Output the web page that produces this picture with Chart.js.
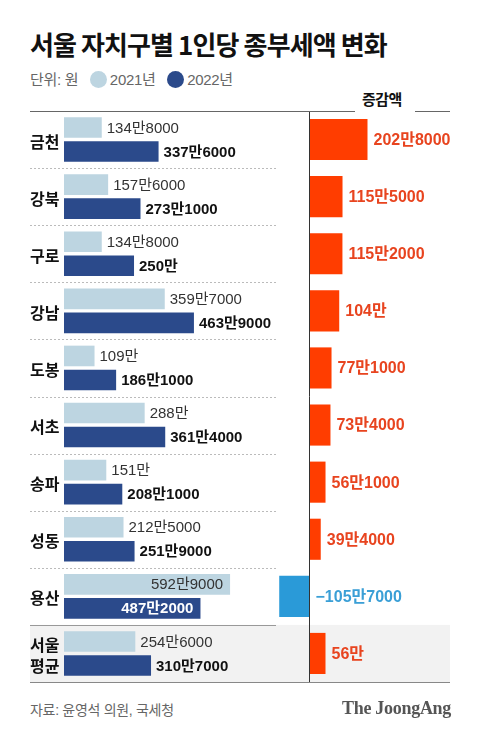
<!DOCTYPE html>
<html>
<head>
<meta charset="utf-8">
<script src="https://cdn.jsdelivr.net/npm/chart.js@4.4.1/dist/chart.umd.min.js"></script>
<style>
body{margin:0;width:480px;height:739px;background:#fff;position:relative;overflow:hidden;font-family:"Liberation Sans","Noto Sans CJK KR",sans-serif}
.abs{position:absolute}
#title{left:30px;top:27px;margin:0;font-family:"Noto Sans CJK KR",sans-serif;font-size:26px;font-weight:700;letter-spacing:-0.9px;line-height:34px;color:#111;white-space:nowrap}
#legend{left:30px;top:69px;font-size:15px;color:#666;line-height:22px;white-space:nowrap;letter-spacing:-0.3px}
#legend span.dot{display:inline-block;width:17px;height:17px;border-radius:50%;vertical-align:-3px;margin-right:3px}
#head{left:362px;top:89px;font-family:"Noto Sans CJK KR",sans-serif;font-size:15px;font-weight:700;color:#111;line-height:20px;letter-spacing:-0.5px}
.rule{height:1px}
#src{left:30px;top:699px;font-size:14px;color:#666;line-height:22px;letter-spacing:-0.3px}
#brand{right:29px;top:698px;font-family:"Liberation Serif","DejaVu Serif",serif;font-weight:700;font-size:18px;color:#555;letter-spacing:-0.3px}
</style>
</head>
<body>
<div id="title" class="abs">서울 자치구별 1인당 종부세액 변화</div>
<div id="legend" class="abs">단위: 원&nbsp;&nbsp;&nbsp;<span class="dot" style="background:#bdd5e1"></span>2021년&nbsp;&nbsp;&nbsp;<span class="dot" style="background:#2b4a8b"></span>2022년</div>
<div id="head" class="abs">증감액</div>

<canvas id="left" class="abs" style="left:0;top:111px" width="480" height="571"></canvas>
<canvas id="right" class="abs" style="left:278px;top:111px" width="202" height="571"></canvas>

<div class="abs rule" style="left:30px;top:111px;width:325px;background:#666"></div>
<div class="abs rule" style="left:415px;top:111px;width:35px;background:#666"></div>
<div class="abs rule" style="left:30px;top:682px;width:420px;background:#888"></div>

<div id="src" class="abs">자료: 윤영석 의원, 국세청</div>
<div id="brand" class="abs">The JoongAng</div>

<script>
const categories = ['금천', '강북', '구로', '강남', '도봉', '서초', '송파', '성동', '용산', ['서울', '평균']];
const tax2021 = [1348000, 1576000, 1348000, 3597000, 1090000, 2880000, 1510000, 2125000, 5929000, 2546000];
const tax2022 = [3376000, 2731000, 2500000, 4639000, 1861000, 3614000, 2081000, 2519000, 4872000, 3107000];
const change = [2028000, 1155000, 1152000, 1040000, 771000, 734000, 561000, 394000, -1057000, 560000];

const FONT = '"Noto Sans CJK KR", sans-serif';
const NUM_FONT = '"Liberation Sans", "Noto Sans CJK KR", sans-serif';

// 1348000 -> "134만8000"
function won(v) {
  const sign = v < 0 ? '−' : '';
  v = Math.abs(v);
  const man = Math.floor(v / 10000), rest = v % 10000;
  return sign + man + '만' + (rest ? rest : '');
}

// y of the boundary between category i and i+1
function between(scale, i) {
  return (scale.getPixelForValue(i) + scale.getPixelForValue(i + 1)) / 2;
}

const leftPlugin = {
  id: 'leftDeco',
  beforeDraw(chart) {
    // grey band behind the Seoul average row, across both panels
    const ctx = chart.ctx, y = chart.scales.y, n = categories.length;
    const top = between(y, n - 2);
    ctx.save();
    ctx.fillStyle = '#f2f2f2';
    ctx.fillRect(30, top, 420, chart.chartArea.bottom - top);
    ctx.restore();
  },
  afterDatasetsDraw(chart) {
    const ctx = chart.ctx, y = chart.scales.y, n = categories.length;
    const right = chart.chartArea.right;
    ctx.save();
    // row separators
    for (let i = 0; i < n - 1; i++) {
      const py = Math.round(between(y, i)) + 0.5;
      ctx.beginPath();
      if (i < n - 2) { ctx.setLineDash([2, 2]); ctx.strokeStyle = '#bbb'; }
      else { ctx.setLineDash([]); ctx.strokeStyle = '#999'; }
      ctx.moveTo(30, py);
      ctx.lineTo(right - 2, py);
      ctx.stroke();
    }
    ctx.setLineDash([]);
    // category names
    ctx.font = '700 16px ' + FONT;
    ctx.fillStyle = '#111';
    ctx.textAlign = 'left';
    ctx.textBaseline = 'middle';
    chart.data.labels.forEach((lab, i) => {
      const lines = Array.isArray(lab) ? lab : [lab];
      const cy = y.getPixelForValue(i) + 2 - (lines.length - 1) * 10.5;
      lines.forEach((t, k) => ctx.fillText(t, 30, cy + k * 21));
    });
    // value labels
    chart.data.datasets.forEach((ds, d) => {
      ctx.font = (d === 1 ? '700 ' : '400 ') + '15px ' + NUM_FONT;
      chart.getDatasetMeta(d).data.forEach((bar, i) => {
        const txt = won(ds.data[i]);
        const w = ctx.measureText(txt).width;
        if (bar.x + 5 + w > right - 2) {
          ctx.textAlign = 'right';
          ctx.fillStyle = d === 1 ? '#fff' : '#333';
          ctx.fillText(txt, bar.x - 7, bar.y + 1);
        } else {
          ctx.textAlign = 'left';
          ctx.fillStyle = d === 1 ? '#111' : '#333';
          ctx.fillText(txt, bar.x + 5, bar.y + 1);
        }
      });
    });
    ctx.restore();
  }
};

const rightPlugin = {
  id: 'rightDeco',
  afterDatasetsDraw(chart) {
    const ctx = chart.ctx, x = chart.scales.x;
    const zero = Math.round(x.getPixelForValue(0)) + 0.5;
    ctx.save();
    ctx.strokeStyle = '#333';
    ctx.lineWidth = 1;
    ctx.beginPath();
    ctx.moveTo(zero, chart.chartArea.top);
    ctx.lineTo(zero, chart.chartArea.bottom);
    ctx.stroke();
    ctx.font = '700 16px ' + NUM_FONT;
    ctx.textBaseline = 'middle';
    ctx.textAlign = 'left';
    chart.getDatasetMeta(0).data.forEach((bar, i) => {
      const v = change[i];
      ctx.fillStyle = v < 0 ? '#3a9fd6' : '#e8441f';
      const px = v < 0 ? zero + 6 : bar.x + 6;
      ctx.fillText(won(v), px, bar.y + 1);
    });
    ctx.restore();
  }
};

new Chart(document.getElementById('left').getContext('2d'), {
  type: 'bar',
  data: {
    labels: categories,
    datasets: [
      { label: '2021년', data: tax2021, backgroundColor: '#bdd5e1' },
      { label: '2022년', data: tax2022, backgroundColor: '#2b4a8b' }
    ]
  },
  options: {
    indexAxis: 'y',
    responsive: false,
    animation: false,
    categoryPercentage: 0.84,
    barPercentage: 0.86,
    layout: { padding: { left: 64, right: 202, top: 0, bottom: 0 } },
    plugins: { legend: { display: false }, tooltip: { enabled: false } },
    scales: {
      x: { type: 'linear', display: false, min: 0, max: 7640000 },
      y: { display: false }
    }
  },
  plugins: [leftPlugin]
});

new Chart(document.getElementById('right').getContext('2d'), {
  type: 'bar',
  data: {
    labels: categories,
    datasets: [{
      label: '증감액',
      data: change,
      backgroundColor: change.map(v => v < 0 ? '#2a9ad8' : '#ff3d00')
    }]
  },
  options: {
    indexAxis: 'y',
    responsive: false,
    animation: false,
    categoryPercentage: 0.72,
    barPercentage: 1,
    layout: { padding: 0 },
    plugins: { legend: { display: false }, tooltip: { enabled: false } },
    scales: {
      x: { type: 'linear', display: false, min: -1100000, max: 5960000 },
      y: { display: false }
    }
  },
  plugins: [rightPlugin]
});
</script>
</body>
</html>
